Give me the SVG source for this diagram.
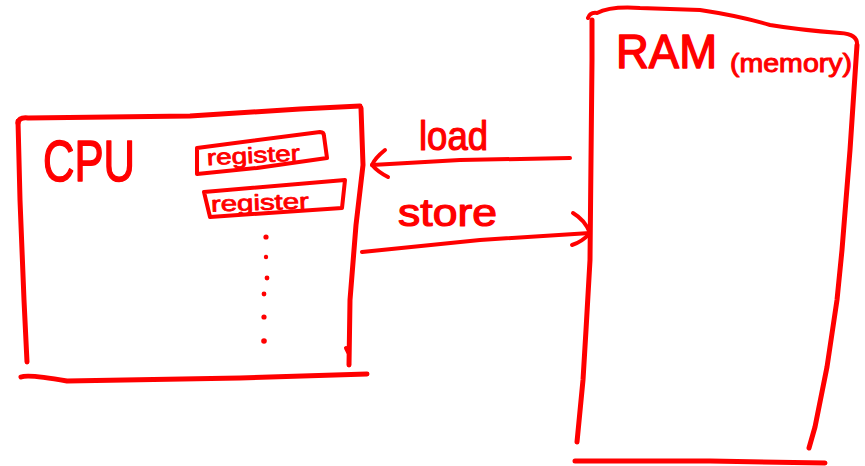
<svg xmlns="http://www.w3.org/2000/svg" width="865" height="466" viewBox="0 0 865 466">
  <style>
    .ink { fill: none; stroke: #ff0000; stroke-linecap: round; stroke-linejoin: round; }
    .thick { stroke-width: 5; }
    .mid { stroke-width: 4; }
    .dot { fill: #ff0000; }
    .hand { font-family: "Liberation Sans", "DejaVu Sans", sans-serif; fill: #ff0000; stroke: #ff0000; stroke-linejoin: round; }
  </style>
  <rect width="865" height="466" fill="#ffffff"/>

  <!-- CPU block -->
  <g id="cpu">
    <path class="ink thick" d="M18,123 Q19,117 28,118 L190,116 L300,109 L360,106"/>
    <path class="ink thick" d="M18,121 L20,200 L24,300 L27,362"/>
    <path class="ink thick" d="M361,108 L363,165 L356,225 L350,300 L349,365"/>
    <path class="ink mid" d="M346,348 L348,352"/>
    <path class="ink thick" d="M21,377 Q28,374 67,381 L240,378 L367,374"/>
    <text class="hand" x="43" y="181" font-size="58" stroke-width="1.5" textLength="92" lengthAdjust="spacingAndGlyphs">CPU</text>
  </g>

  <!-- register 1 -->
  <g id="register1">
    <path class="ink mid" d="M197,148 L320,132 Q324,132 324,136 L327,158 L257,168 L197,174 Z"/>
    <text class="hand" x="207" y="163" font-size="22" stroke-width="0.8" textLength="93" lengthAdjust="spacingAndGlyphs" transform="rotate(-3 250 158)">register</text>
  </g>

  <!-- register 2 -->
  <g id="register2">
    <path class="ink mid" d="M204,192 L345,180 L342,208 L210,217 Z"/>
    <text class="hand" x="211" y="210" font-size="22" stroke-width="0.8" textLength="98" lengthAdjust="spacingAndGlyphs" transform="rotate(-2 260 205)">register</text>
  </g>

  <!-- more registers -->
  <g id="ellipsis">
    <circle class="dot" cx="266" cy="237" r="2.6"/>
    <circle class="dot" cx="266" cy="257" r="2.2"/>
    <circle class="dot" cx="267" cy="278" r="2.4"/>
    <circle class="dot" cx="264" cy="294" r="2.4"/>
    <circle class="dot" cx="264" cy="317" r="2.6"/>
    <circle class="dot" cx="264" cy="341" r="2.8"/>
  </g>

  <!-- RAM block -->
  <g id="ram">
    <path class="ink mid" d="M588,18 Q590,12 597,13 Q610,6 640,8 L700,10 Q740,16 770,25 Q800,30 840,33 Q858,34 857,45"/>
    <path class="ink thick" d="M592,20 L592,60 L590,260 L586,330 L583,380 L577,442"/>
    <path class="ink thick" d="M857,45 L850,150 L842,250 L837,300 L827,367 L815,427 L809,448"/>
    <path class="ink thick" d="M575,461 L710,461 L825,463"/>
    <text class="hand" x="616" y="68" font-size="48" stroke-width="1.5" textLength="101" lengthAdjust="spacingAndGlyphs">RAM</text>
    <text class="hand" x="730" y="72" font-size="25" stroke-width="1" textLength="122" lengthAdjust="spacingAndGlyphs">(memory)</text>
  </g>

  <!-- data transfers -->
  <g id="connectors">
    <g id="load">
      <path class="ink mid" d="M570,158 L460,160 L372,165"/>
      <path class="ink mid" d="M385,150 Q375,158 372,165 Q378,172 388,177"/>
      <text class="hand" x="419" y="150" font-size="40" stroke-width="1.2" textLength="69" lengthAdjust="spacingAndGlyphs">load</text>
    </g>
    <g id="store">
      <path class="ink mid" d="M362,252 L480,240 L590,233"/>
      <path class="ink mid" d="M573,213 Q585,220 590,233 Q582,242 572,245"/>
      <text class="hand" x="398" y="226" font-size="38" stroke-width="1.2" textLength="99" lengthAdjust="spacingAndGlyphs">store</text>
    </g>
  </g>
</svg>
